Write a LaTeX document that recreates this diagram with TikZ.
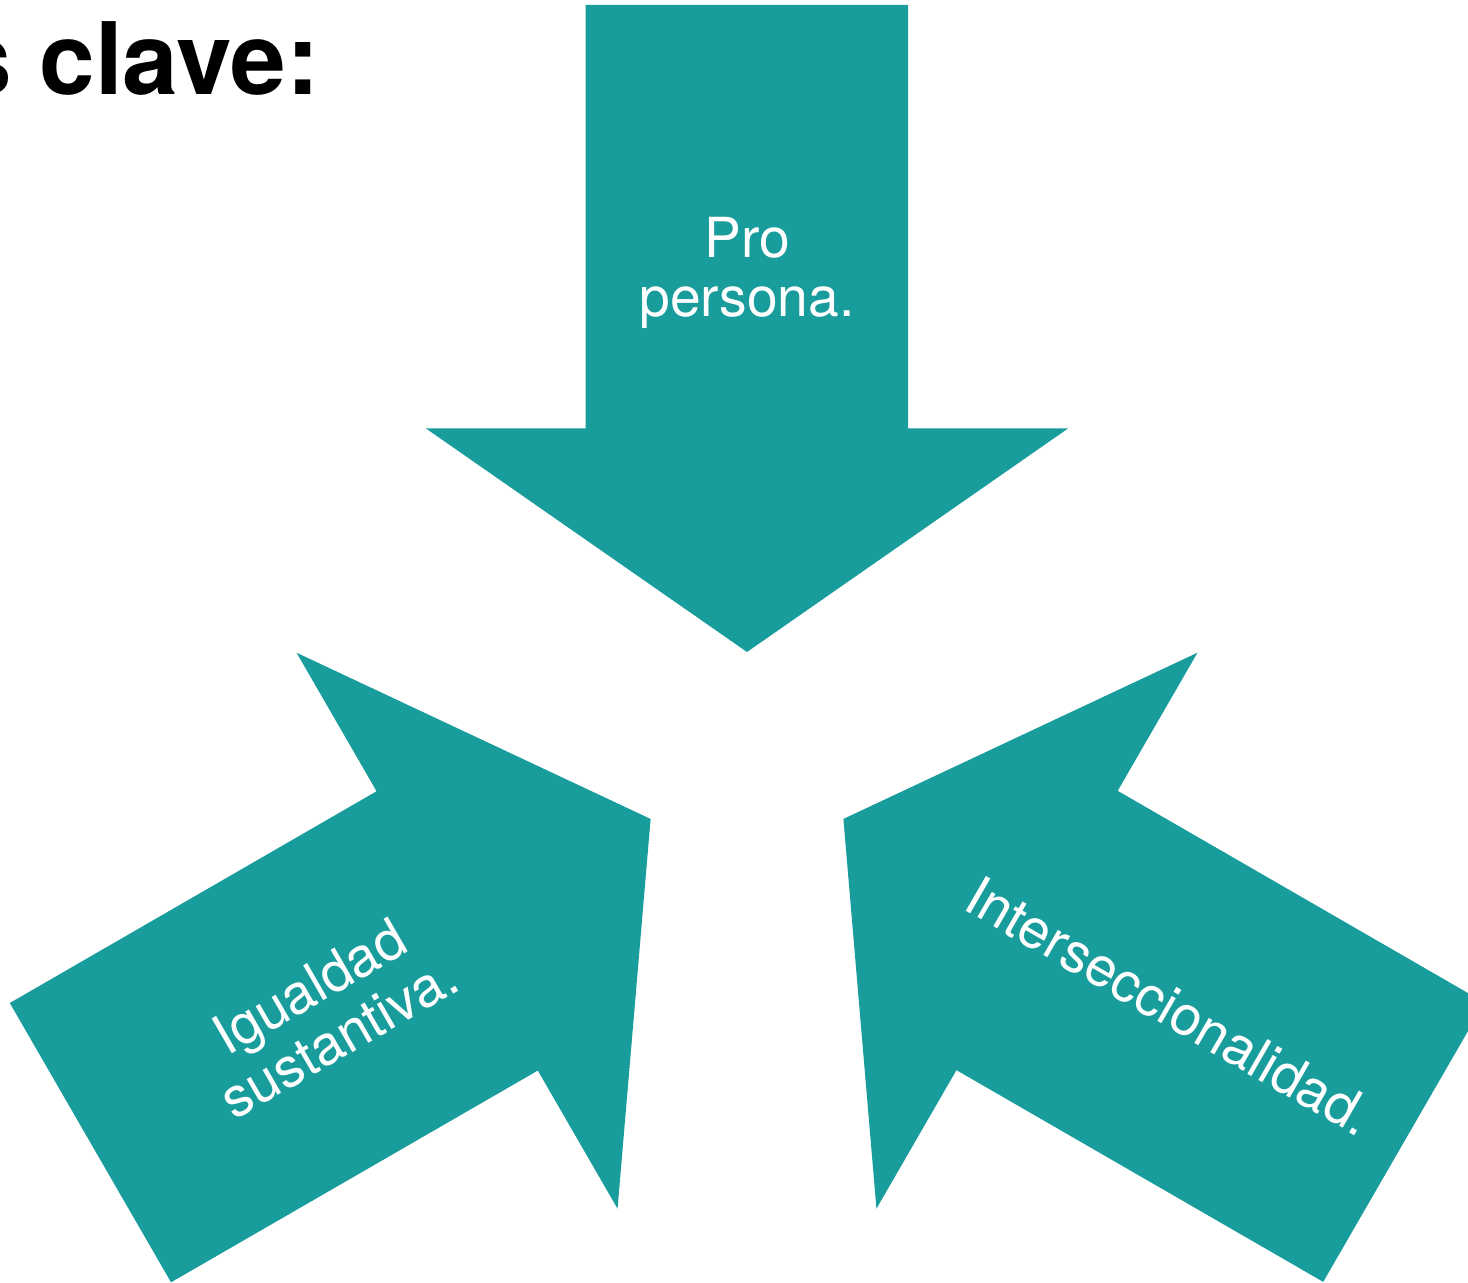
\documentclass[tikz,border=0pt]{standalone}
\usepackage{fontspec}
\setmainfont{TeX Gyre Heros}
\definecolor{tealA}{RGB}{25,157,156}
\begin{document}
\begin{tikzpicture}[x=0.5pt,y=-0.5pt,
  arrowshape/.style={fill=tealA,draw=none},
  lbl/.style={text=white,font=\fontsize{27.6}{29.5}\selectfont,align=center,inner sep=0pt},
  ttl/.style={text=black,font=\fontsize{50}{60}\selectfont\bfseries,inner sep=0pt}]
\useasboundingbox (0,0) rectangle (1468,1283);
\clip (0,0) rectangle (1468,1283);
\coordinate (ctr) at (747,763.3);
% top arrow
\fill[arrowshape] (585.5,5) -- (908,5) -- (908,428.5) -- (1068,428.5) -- (747,652) -- (426,428.5) -- (585.5,428.5) -- cycle;
% left arrow
\begin{scope}[rotate around={120:(ctr)}]
\fill[arrowshape] (585.5,5) -- (908,5) -- (908,428.5) -- (1068,428.5) -- (747,652) -- (426,428.5) -- (585.5,428.5) -- cycle;
\end{scope}
% right arrow
\begin{scope}[rotate around={-120:(ctr)}]
\fill[arrowshape] (585.5,5) -- (908,5) -- (908,428.5) -- (1068,428.5) -- (747,652) -- (426,428.5) -- (585.5,428.5) -- cycle;
\end{scope}
\node[lbl] (pro) at (747,273) {Pro\\persona.};
\node[lbl,rotate=30] (igual) at (324,1012) {Igualdad\\sustantiva.};
\node[lbl,rotate=-30] (inter) at (1170,1006) {Interseccionalidad.};
\node[ttl,anchor=base east] (title) at (320,95) {s clave:};
\end{tikzpicture}
\end{document}
